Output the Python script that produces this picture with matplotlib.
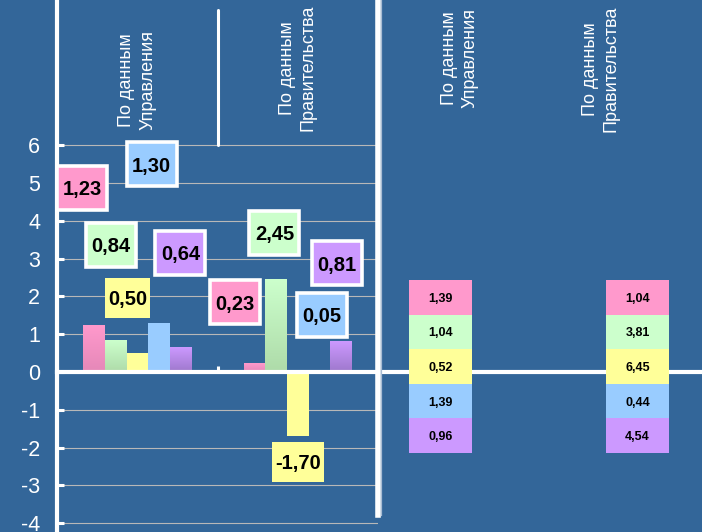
import numpy as np
import matplotlib
matplotlib.use("Agg")
import matplotlib.pyplot as plt
from matplotlib.patches import Rectangle
from matplotlib.transforms import ScaledTranslation
from matplotlib.colors import to_rgb

# ---- data ----
sources = ["По данным\nУправления", "По данным\nПравительства"]
values_upr = [1.23, 0.84, 0.50, 1.30, 0.64]
values_prav = [0.23, 2.45, -1.70, 0.05, 0.81]
table_upr = [1.39, 1.04, 0.52, 1.39, 0.96]
table_prav = [1.04, 3.81, 6.45, 0.44, 4.54]
yticks = list(range(-4, 7))

# ---- style ----
BG = "#336699"
FONT = "Liberation Sans"
colors = ["#FF99CC", "#CCFFCC", "#FFFF99", "#99CCFF", "#CC99FF"]
shade = ["#E588B8", "#AEDBA9", "#FFFF99", "#99CCFF", "#9E78CC"]
bordered = [True, True, False, True, True]

W, H = 702, 532
Y0 = 372.0          # zero line, px from top
PXU = 37.8          # px per unit
ylo, yhi = -(H - Y0) / PXU, Y0 / PXU
HDR_SIZE = 13
HDR_SPACING = 1.3


def fmt(v):
    return f"{v:.2f}".replace(".", ",")


fig = plt.figure(figsize=(W / 100, H / 100), dpi=100, facecolor=BG)

ax = fig.add_axes([57 / W, 0, (378 - 57) / W, 1])
ax.set_facecolor(BG)
ax.set_xlim(0, 2)
ax.set_ylim(ylo, yhi)

# grid and axes
ax.set_yticks(yticks)
ax.set_yticklabels([str(t) for t in yticks])
ax.yaxis.grid(True, color="#B8B8B8", lw=0.8, zorder=0)
ax.set_axisbelow(True)
ax.tick_params(axis="y", direction="in", length=5, width=2.2, color="white",
               labelcolor="white", labelsize=15.5, pad=12)
for lab in ax.get_yticklabels():
    lab.set_family(FONT)
ax.set_xticks([0, 1, 2])
ax.tick_params(axis="x", direction="in", length=4, width=2.2, color="white",
               labelbottom=False)
ax.spines["top"].set_visible(False)
ax.spines["bottom"].set_position(("data", 0))
ax.spines["bottom"].set_color("white")
ax.spines["bottom"].set_linewidth(3)
ax.spines["bottom"].set_zorder(4)
ax.spines["left"].set_color("white")
ax.spines["left"].set_linewidth(3)
ax.spines["right"].set_color("white")
ax.spines["right"].set_linewidth(4)
ax.spines["right"].set_bounds(-3.78, yhi)

# bars
bw = 0.135
centers = [0.5, 1.5]
for gi, vals in enumerate([values_upr, values_prav]):
    for i, v in enumerate(vals):
        x = centers[gi] + (i - 2) * bw
        rect = ax.bar(x, v, width=bw, color=colors[i], zorder=2, lw=0)[0]
        if v > 0 and colors[i] != shade[i]:
            t = np.linspace(0, 1, 64)[:, None]
            img = np.array(to_rgb(shade[i]))[None, :] * (1 - t) + \
                np.array(to_rgb(colors[i]))[None, :] * t
            x0 = rect.get_x()
            ax.imshow(img[:, None, :], extent=[x0, x0 + bw, 0, v], origin="lower",
                      aspect="auto", zorder=2.5, interpolation="bilinear")

ax.set_xlim(0, 2)
ax.set_ylim(ylo, yhi)

# value labels
label_pos = [
    [(0.156, 4.87), (0.336, 3.36), (0.439, 1.96), (0.589, 5.49), (0.769, 3.15)],
    [(1.106, 1.85), (1.355, 3.69), (1.500, -2.38), (1.648, 1.51), (1.745, 2.88)],
]
for gi, vals in enumerate([values_upr, values_prav]):
    for i, v in enumerate(vals):
        x, y = label_pos[gi][i]
        s = fmt(v)
        off = fig.dpi_scale_trans + ScaledTranslation(x, y, ax.transData)
        if bordered[i]:
            w, h = 0.50, 0.44
            r = Rectangle((-w / 2, -h / 2), w, h, transform=off, facecolor=colors[i],
                          edgecolor="white", lw=2.6, zorder=5, clip_on=False)
        else:
            w = 0.45 if len(s) == 4 else 0.52
            h = 0.40
            r = Rectangle((-w / 2, -h / 2), w, h, transform=off, facecolor=colors[i],
                          edgecolor="none", zorder=5, clip_on=False)
        ax.add_patch(r)
        ax.text(x, y, s, ha="center", va="center_baseline", fontsize=14.5,
                fontweight="bold", family=FONT, color="black", zorder=6)

# source headers
ax.plot([1, 1], [6.0, 9.57], color="white", lw=2.2, solid_capstyle="round",
        zorder=3, clip_on=False)
ax.text(0.5, 7.72, sources[0], rotation=90, ha="center", va="center",
        multialignment="center", color="white", fontsize=HDR_SIZE,
        linespacing=HDR_SPACING, family=FONT)
ax.text(1.5, 8.04, sources[1], rotation=90, ha="center", va="center",
        multialignment="center", color="white", fontsize=HDR_SIZE,
        linespacing=HDR_SPACING, family=FONT)

# right-hand panel: summary columns
rax = fig.add_axes([381 / W, 0, (W - 381) / W, 1])
rax.set_facecolor("none")
rax.set_xlim(0, 1)
rax.set_ylim(ylo, yhi)
rax.axis("off")
rax.axhline(0, color="white", lw=3, zorder=1)
rax.axvline(0.0, ymin=(H - 515) / H, ymax=1, color="#A9BCD3", lw=0.9, zorder=1)

row_top = (Y0 - 280) / PXU
row_h = 34.6 / PXU
col_left = [(409 - 381) / (W - 381), (606 - 381) / (W - 381)]
col_w = 63 / (W - 381)
for ci, vals in enumerate([table_upr, table_prav]):
    for i, v in enumerate(vals):
        yb = row_top - (i + 1) * row_h
        rax.add_patch(Rectangle((col_left[ci], yb), col_w, row_h,
                                facecolor=colors[i], edgecolor="none", zorder=2))
        rax.text(col_left[ci] + col_w / 2, yb + row_h / 2, fmt(v), ha="center",
                 va="center_baseline", fontsize=9, fontweight="bold",
                 family=FONT, color="black", zorder=3)

rax.text((460 - 381) / (W - 381), (Y0 - 58) / PXU, sources[0], rotation=90,
         ha="center", va="center", multialignment="center", color="white",
         fontsize=HDR_SIZE, linespacing=HDR_SPACING, family=FONT)
rax.text((601 - 381) / (W - 381), (Y0 - 69) / PXU, sources[1], rotation=90,
         ha="center", va="center", multialignment="center", color="white",
         fontsize=HDR_SIZE, linespacing=HDR_SPACING, family=FONT)

fig.savefig("out.png", dpi=100, facecolor=BG)
